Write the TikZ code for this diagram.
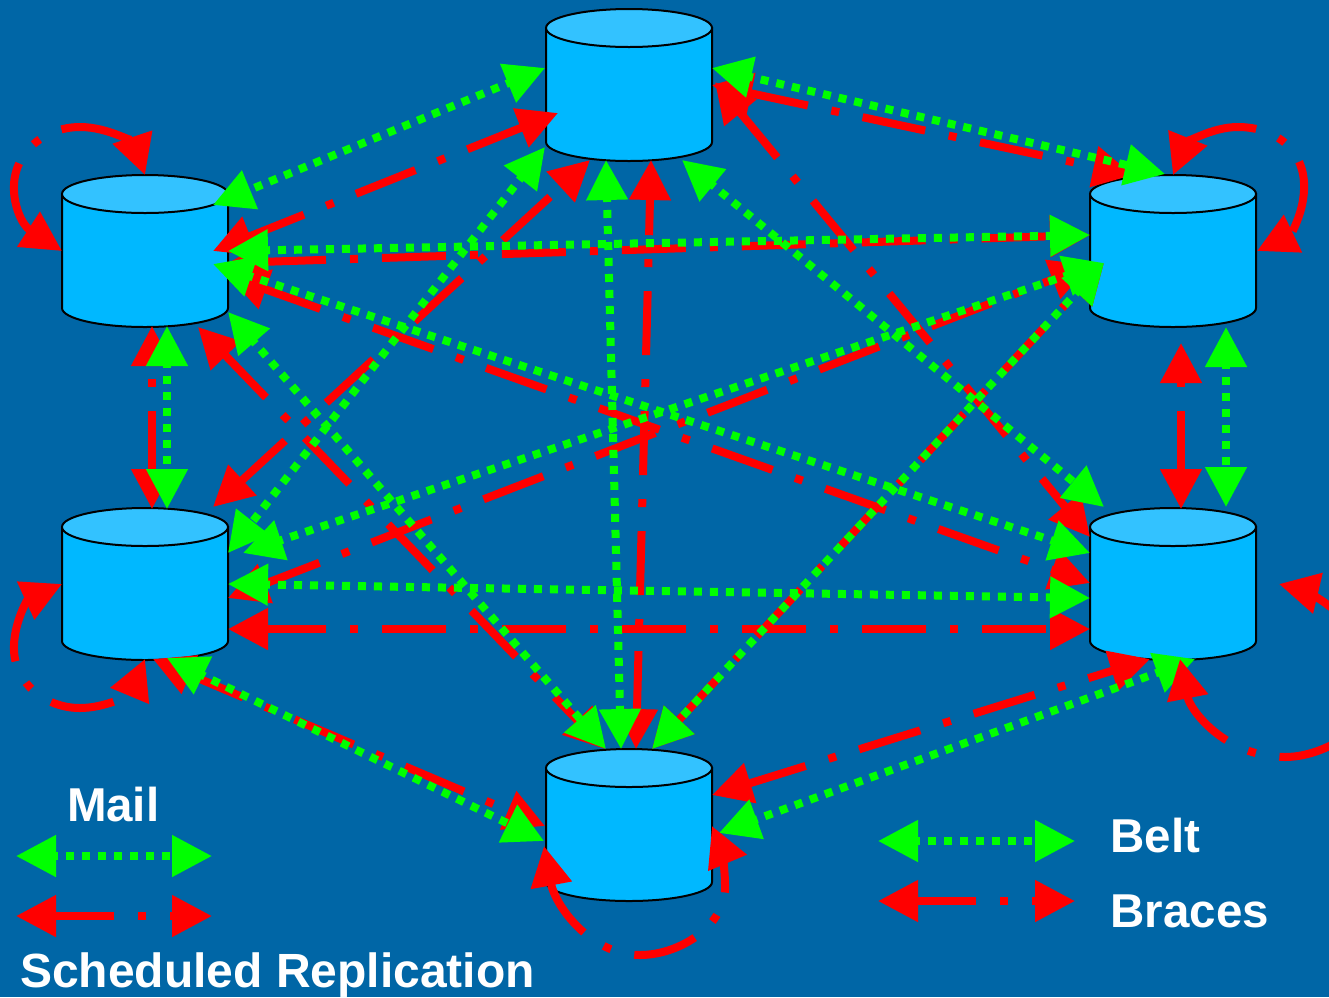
\documentclass[tikz,border=0pt]{standalone}
\usepackage{fontspec}
\setmainfont{Liberation Sans}
\usetikzlibrary{arrows.meta}
\definecolor{bgblue}{HTML}{0066A6}
\definecolor{bodyblue}{HTML}{00B8FF}
\definecolor{capblue}{HTML}{33C2FF}
\definecolor{mailgreen}{HTML}{00FF00}
\definecolor{repred}{HTML}{FF0000}
\tikzset{
  dbnode/.style={rectangle,minimum height=152pt,minimum width=166pt,inner sep=0pt,outer sep=0pt},
  dbline/.style={draw=black,line width=2pt},
  dtip/.style={{Triangle[length=40pt,width=40pt]}-{Triangle[length=40pt,width=40pt]}},
  mail/.style={dtip,draw=mailgreen,line width=8pt,dash pattern=on 8pt off 8pt,dash phase=4pt},
  rep/.style={dtip,draw=repred,line width=8pt,dash pattern=on 64pt off 24pt on 8pt off 24pt,dash phase=4pt},
  replong/.style={rep,dash pattern=on 72pt off 24pt on 8pt off 24pt,dash phase=0pt},
  legendtext/.style={anchor=base west,text=white,font=\fontsize{47.5}{50}\selectfont\bfseries,inner sep=0pt,outer sep=0pt}
}
% a database drum round a named node
\newcommand{\dbdrum}[3]{%
  \node[dbnode] (#1) at (#2,#3) {};
  \begin{scope}[shift={(#1.center)}]
  \path[dbline,fill=bodyblue] (-83,-57) -- (-83,57)
    .. controls (-83,67.5) and (-45.8,76) .. (0,76)
    .. controls (45.8,76) and (83,67.5) .. (83,57) -- (83,-57) -- cycle;
  \path[dbline,fill=capblue] (-83,-57)
    .. controls (-83,-67.5) and (-45.8,-76) .. (0,-76)
    .. controls (45.8,-76) and (83,-67.5) .. (83,-57)
    .. controls (83,-46.5) and (45.8,-38) .. (0,-38)
    .. controls (-45.8,-38) and (-83,-46.5) .. (-83,-57) -- cycle;
  \end{scope}}
\begin{document}
\begin{tikzpicture}[x=1pt,y=-1pt]
\useasboundingbox (0,0) rectangle (1329,997);
\clip (0,0) rectangle (1329,997);
\fill[bgblue] (0,0) rectangle (1329,997);
\dbdrum{T}{629}{85}
\dbdrum{LU}{145}{251}
\dbdrum{LD}{145}{584}
\dbdrum{RU}{1173}{251}
\dbdrum{RD}{1173}{584}
\dbdrum{B}{629}{825}
% scheduled replication
\draw[rep] ([shift={(68,0)}]LU.center) -- ([shift={(-71,28)}]T.center);
\draw[rep] ([shift={(83,0)}]T.center) -- ([shift={(-40,-76)}]RU.center);
\draw[rep] ([shift={(86,-3)}]T.center) -- ([shift={(-83,-47)}]RD.center);
\draw[rep] ([shift={(68,-77)}]LD.center) -- ([shift={(-39,75)}]T.center);
\draw[rep] ([shift={(7,-76)}]B.center) -- ([shift={(22,75)}]T.center);
\draw[rep] ([shift={(83,12)}]LU.center) -- ([shift={(-83,-16)}]RU.center);
\draw[rep] ([shift={(83,25)}]LU.center) -- ([shift={(-83,-1)}]RD.center);
\draw[rep] ([shift={(53,76)}]LU.center) -- ([shift={(-24,-76)}]B.center);
\draw[rep] ([shift={(7,-75)}]LD.center) -- ([shift={(7,75)}]LU.center);
\draw[rep] ([shift={(83,14)}]LD.center) -- ([shift={(-83,14)}]RU.center);
\draw[rep] ([shift={(83,45)}]LD.center) -- ([shift={(-83,45)}]RD.center);
\draw[rep] ([shift={(8,75)}]LD.center) -- ([shift={(-84,1)}]B.center);
\draw[rep] ([shift={(23,-76)}]B.center) -- ([shift={(-69,12)}]RU.center);
\draw[rep] ([shift={(8,-75)}]RD.center) -- ([shift={(8,92)}]RU.center);
\draw[rep] ([shift={(83,-30)}]B.center) -- ([shift={(-23,75)}]RD.center);
% mail
\draw[mail] ([shift={(-84,-17)}]T.center) -- ([shift={(68,-46)}]LU.center);
\draw[mail] ([shift={(83,-17)}]T.center) -- ([shift={(-8,-77)}]RU.center);
\draw[mail] ([shift={(53,75)}]T.center) -- ([shift={(-69,-77)}]RD.center);
\draw[mail] ([shift={(-84,62)}]T.center) -- ([shift={(83,-31)}]LD.center);
\draw[mail] ([shift={(-23,75)}]T.center) -- ([shift={(-8,-76)}]B.center);
\draw[mail] ([shift={(83,0)}]LU.center) -- ([shift={(-83,-16)}]RU.center);
\draw[mail] ([shift={(68,13)}]LU.center) -- ([shift={(-83,-31)}]RD.center);
\draw[mail] ([shift={(83,61)}]LU.center) -- ([shift={(-23,-76)}]B.center);
\draw[mail] ([shift={(22,75)}]LU.center) -- ([shift={(22,-75)}]LD.center);
\draw[mail] ([shift={(98,-31)}]LD.center) -- ([shift={(-69,12)}]RU.center);
\draw[mail] ([shift={(83,0)}]LD.center) -- ([shift={(-83,14)}]RD.center);
\draw[mail] ([shift={(22,74)}]LD.center) -- ([shift={(-85,16)}]B.center);
\draw[mail] ([shift={(-69,12)}]RU.center) -- ([shift={(23,-76)}]B.center);
\draw[mail] ([shift={(53,76)}]RU.center) -- ([shift={(53,-77)}]RD.center);
\draw[mail] ([shift={(22,75)}]RD.center) -- ([shift={(90,8)}]B.center);
% self loops
\draw[replong] ([shift={(-83,0)}]LU.center) .. controls (22,225) and (13,205) .. (14,185) .. controls (15,152) and (45,127) .. (80,127) .. controls (110,127) and (135,145) .. ([shift={(0,-76)}]LU.center);
\draw[rep,dash phase=0pt] ([shift={(-83,0)}]LD.center) .. controls (27,600) and (13,625) .. (14,650) .. controls (15,683) and (45,708) .. (80,708) .. controls (105,708) and (130,695) .. ([shift={(0,75)}]LD.center);
\draw[replong] ([shift={(0,-76)}]RU.center) .. controls (1185,145) and (1210,127) .. (1238,127) .. controls (1275,127) and (1306,150) .. (1304,190) .. controls (1303,215) and (1290,235) .. ([shift={(84,0)}]RU.center);
\draw[rep] ([shift={(7,75)}]RD.center) .. controls (1190,710) and (1225,757) .. (1285,757) .. controls (1340,757) and (1400,700) .. (1400,665) .. controls (1400,640) and (1360,625) .. (1329,606) .. controls (1320,598) and (1300,589) .. ([shift={(106,0)}]RD.center);
\draw[rep] ([shift={(-85,21)}]B.center) .. controls (555,905) and (590,955) .. (640,955) .. controls (680,955) and (727,925) .. (725,885) .. controls (725,865) and (720,845) .. ([shift={(83,1)}]B.center);
% legends
\node[legendtext] (mailtext) at (67,821) {Mail};
\coordinate (mailA) at (16,856);
\coordinate (mailZ) at (212,856);
\draw[mail] (mailA) -- (mailZ);
\coordinate (repA) at (16,916);
\coordinate (repZ) at (212,916);
\draw[rep] (repA) -- (repZ);
\node[legendtext,font=\fontsize{48}{50}\selectfont\bfseries] (schedtext) at (20,987) {Scheduled Replication};
\coordinate (beltA) at (878,841);
\coordinate (beltZ) at (1075,841);
\draw[mail] (beltA) -- (beltZ);
\coordinate (bracesA) at (878,901);
\coordinate (bracesZ) at (1075,901);
\draw[rep] (bracesA) -- (bracesZ);
\node[legendtext] (belttext) at (1110.5,852) {Belt};
\node[legendtext] (bracestext) at (1110.5,927) {Braces};
\end{tikzpicture}
\end{document}
